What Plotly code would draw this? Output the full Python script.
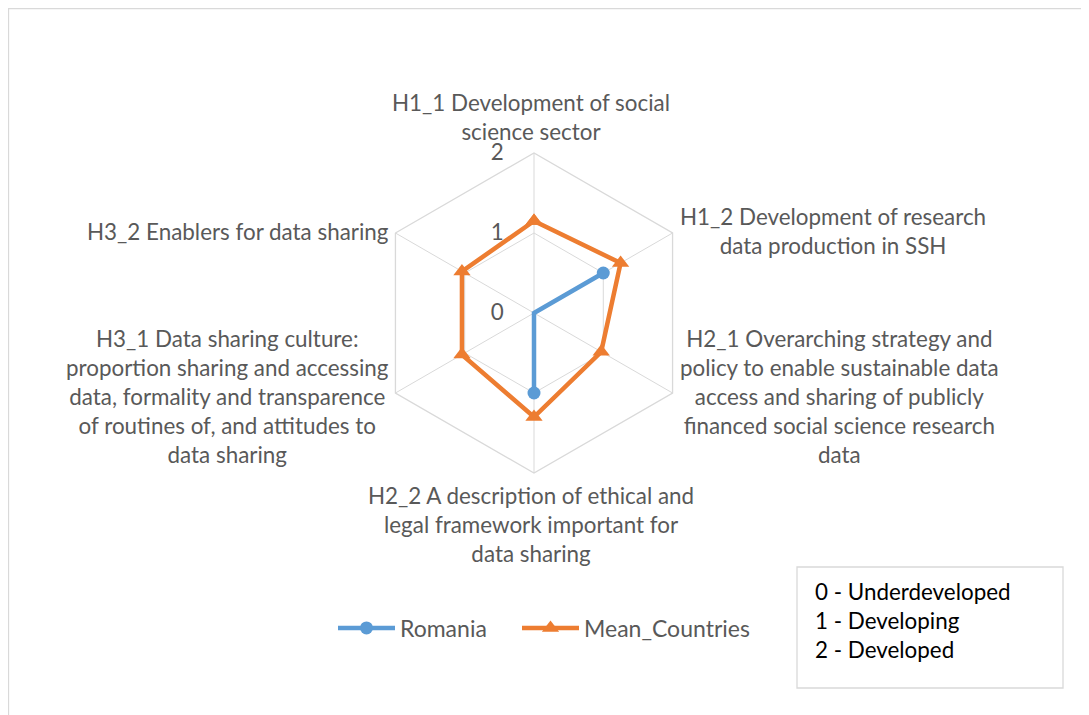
import math
import plotly.graph_objects as go

# dimension labels (as in the source chart, line-broken)
categories = [
    "H1_1 Development of social<br>science sector",
    "H1_2 Development of research<br>data production in SSH",
    "H2_1 Overarching strategy and<br>policy to enable sustainable data<br>access and sharing of publicly<br>financed social science research<br>data",
    "H2_2 A description of ethical and<br>legal framework important for<br>data sharing",
    "H3_1 Data sharing culture:<br>proportion sharing and accessing<br>data, formality and transparence<br>of routines of, and attitudes to<br>data sharing",
    "H3_2 Enablers for data sharing",
]
romania = [0, 1, 0, 1, 0, 0]
mean_countries = [1.15, 1.25, 0.97, 1.3, 1.04, 1.04]
radial_ticks = [0, 1, 2]
scale_notes = ["0 - Underdeveloped", "1 - Developing", "2 - Developed"]

blue = "#5B9BD5"
orange = "#ED7D31"
grey_txt = "#595959"
grid = "#D9D9D9"
font_fam = "Lato, Liberation Sans, sans-serif"
fsize = 22.4

# page is offset by the 8px body margin
OFF = 8
W, H = 1081, 707
def px(x):
    return (x - OFF) / W
def py(y):
    return 1 - (y - OFF) / H

cx, cy, rad = 534, 313, 160

theta = categories + categories[:1]

fig = go.Figure()
fig.add_trace(go.Scatterpolar(
    r=romania + romania[:1], theta=theta, name="Romania",
    mode="lines+markers",
    line=dict(color=blue, width=4.5),
    marker=dict(symbol="circle", size=13, color=blue),
    legend="legend",
))
fig.add_trace(go.Scatterpolar(
    r=mean_countries + mean_countries[:1], theta=theta, name="Mean_Countries",
    mode="lines+markers",
    line=dict(color=orange, width=4.5),
    marker=dict(symbol="triangle-up", size=15, color=orange),
    legend="legend2",
))

leg_style = dict(
    orientation="h", xanchor="left", y=py(628), yanchor="middle",
    font=dict(size=23, color=grey_txt, family=font_fam),
    itemwidth=57, bgcolor="rgba(0,0,0,0)",
)

fig.update_layout(
    width=W, height=H,
    paper_bgcolor="white", plot_bgcolor="white",
    margin=dict(l=0, r=0, t=0, b=0),
    font=dict(family=font_fam, size=fsize, color=grey_txt),
    polar=dict(
        domain=dict(x=[px(cx - rad), px(cx + rad)],
                    y=[py(cy + rad), py(cy - rad)]),
        gridshape="linear",
        bgcolor="white",
        angularaxis=dict(
            direction="clockwise", rotation=90,
            showline=True, linecolor=grid, linewidth=1.3,
            gridcolor=grid, gridwidth=1.3,
            ticks="", showticklabels=False,
        ),
        radialaxis=dict(
            range=[0, 2], tickvals=radial_ticks, angle=90, tickangle=90,
            side="counterclockwise",
            showline=False, gridcolor=grid, gridwidth=1.3,
            ticks="outside", ticklen=22, tickcolor="rgba(0,0,0,0)",
            tickfont=dict(size=fsize, color=grey_txt, family=font_fam),
        ),
    ),
    legend=dict(x=px(333), **leg_style),
    legend2=dict(x=px(517), **leg_style),
    showlegend=True,
)

# category labels around the hexagon, placed from the polar geometry
n = len(categories)
for i, lab in enumerate(categories):
    ang = math.radians(90 - 360 * i / n)
    vx = cx + rad * math.cos(ang)
    vy = cy - rad * math.sin(ang)
    c = math.cos(ang)
    s = math.sin(ang)
    if abs(c) < 0.1:
        xa = "center"
        ya = "bottom" if s > 0 else "top"
        ys = 6 if s > 0 else -7
        xs = -3
    else:
        xa = "left" if c > 0 else "right"
        ya = "middle"
        ys = 2 if s > 0 else -3
        xs = 5 if c > 0 else -4
    fig.add_annotation(
        xref="paper", yref="paper", x=px(vx), y=py(vy),
        xanchor=xa, yanchor=ya, xshift=xs, yshift=ys,
        text=lab, align="center", showarrow=False,
        font=dict(size=fsize, color=grey_txt, family=font_fam),
    )

# chart-area border (left/top visible in the source)
fig.add_shape(type="rect", xref="paper", yref="paper",
              x0=0.5 / W, x1=1.05, y0=-0.05, y1=1 - 0.5 / H,
              line=dict(color=grid, width=1.3))

# scale note box
fig.add_shape(type="rect", xref="paper", yref="paper",
              x0=px(797), x1=px(1063), y0=py(688), y1=py(567),
              line=dict(color=grid, width=1.3), fillcolor="white")
fig.add_annotation(
    xref="paper", yref="paper", x=px(813), y=py(576),
    xanchor="left", yanchor="top", align="left", showarrow=False,
    text="<br>".join(scale_notes),
    font=dict(size=fsize, color="black", family=font_fam),
)

fig.write_html("out.html")
